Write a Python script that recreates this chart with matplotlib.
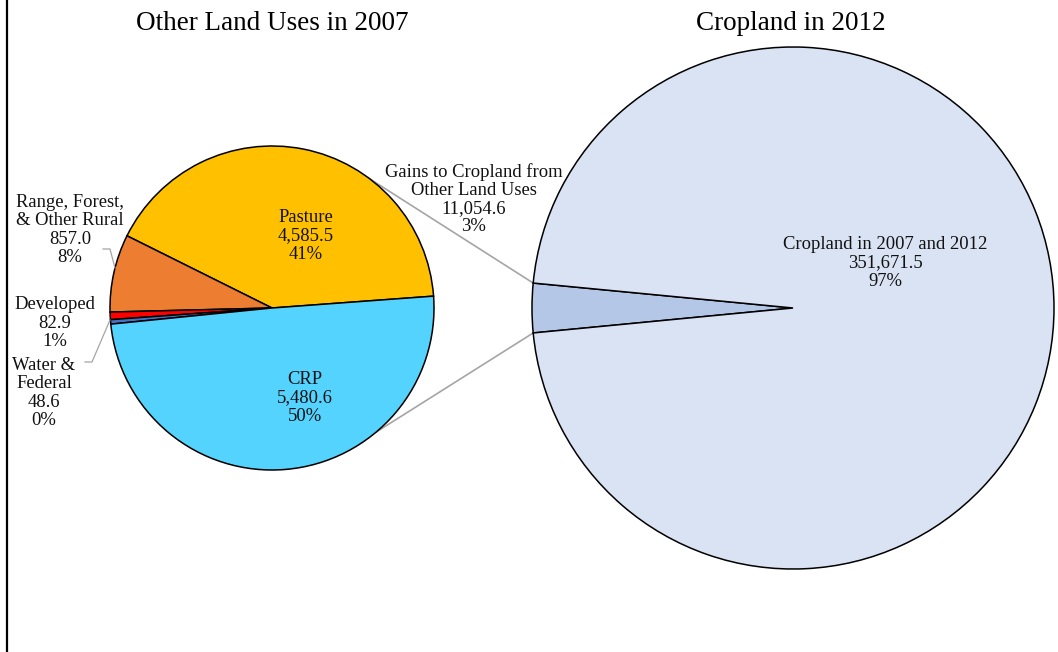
import numpy as np
import matplotlib
matplotlib.use('Agg')
import matplotlib.pyplot as plt

plt.rcParams['font.family'] = ['Liberation Serif', 'DejaVu Serif']

# Other land uses in 2007 (left pie), counterclockwise from Pasture
left_labels = ['Pasture', 'Range, Forest,\n& Other Rural', 'Developed', 'Water &\nFederal', 'CRP']
left_values = [4585.5, 857.0, 82.9, 48.6, 5480.6]
left_pcts = ['41%', '8%', '1%', '0%', '50%']
left_colors = ['#FFC000', '#ED7D31', '#FF0000', '#4472C4', '#55D3FF']

# Cropland in 2012 (right pie)
right_labels = ['Gains to Cropland from\nOther Land Uses', 'Cropland in 2007 and 2012']
right_values = [11054.6, 351671.5]
right_pcts = ['3%', '97%']
right_colors = ['#B4C7E7', '#DAE3F3']

W, H = 1058, 652
fig = plt.figure(figsize=(W / 100, H / 100), dpi=100)
ax = fig.add_axes([0, 0, 1, 1])

lc, lr = (272, 344), 162
rc, rr = (793, 344), 261

left_start = 4.2
gain_frac = right_values[0] / sum(right_values)
right_start = 180 - 360 * gain_frac / 2

wp = dict(edgecolor='black', linewidth=1.1)
ax.pie(left_values, colors=left_colors, center=lc, radius=lr,
       startangle=left_start, counterclock=True, wedgeprops=wp)
ax.pie(right_values, colors=right_colors, center=rc, radius=rr,
       startangle=right_start, counterclock=True, wedgeprops=wp)

ax.set_xlim(0, W)
ax.set_ylim(0, H)
ax.set_aspect('equal')
ax.axis('off')


def fmt(v):
    return f'{v:,.1f}'


# connector lines between the pies
a1, a2 = np.deg2rad(right_start), np.deg2rad(right_start + 360 * gain_frac)
for la, ra in [(np.deg2rad(52.8), a1), (np.deg2rad(-50.0), a2)]:
    ax.plot([lc[0] + lr * np.cos(la), rc[0] + rr * np.cos(ra)],
            [lc[1] + lr * np.sin(la), rc[1] + rr * np.sin(ra)],
            color='#A5A5A5', lw=1.2, zorder=0)

fs = 13.4
txt = dict(ha='center', va='center', fontsize=fs, linespacing=1.08, color='#111111')

# titles
ax.text(272, 628, 'Other Land Uses in 2007', ha='center', va='center', fontsize=19.5)
ax.text(791, 628, 'Cropland in 2012', ha='center', va='center', fontsize=19.5)

# left pie labels
left_pos = [(306, 416), (70, 422), (55, 329), (44, 259), (305, 254)]
for lab, v, p, pos in zip(left_labels, left_values, left_pcts, left_pos):
    ax.text(pos[0], pos[1], f'{lab}\n{fmt(v)}\n{p}', **txt)

# right pie labels
right_pos = [(474, 453), (885, 389)]
for lab, v, p, pos in zip(right_labels, right_values, right_pcts, right_pos):
    ax.text(pos[0], pos[1], f'{lab}\n{fmt(v)}\n{p}', **txt)

# leader lines for small slices
ax.plot([103, 110, 115], [H - 249, H - 249, H - 268], color='#A5A5A5', lw=0.9)
ax.plot([85, 92, 110], [H - 362, H - 362, H - 320], color='#A5A5A5', lw=0.9)

# frame line on the left
ax.plot([7, 7], [0, H], color='black', lw=1.6, clip_on=False)

fig.savefig('out.png', dpi=100, facecolor='white')
